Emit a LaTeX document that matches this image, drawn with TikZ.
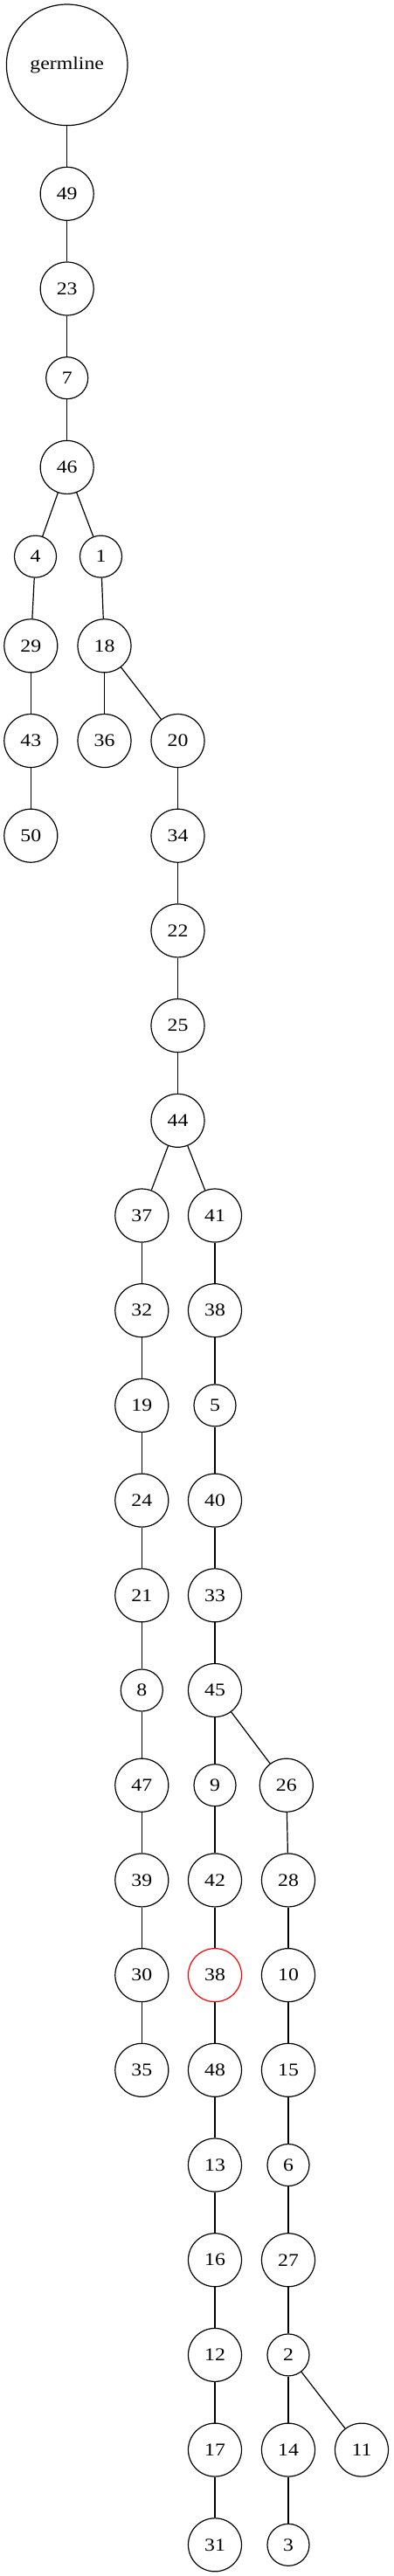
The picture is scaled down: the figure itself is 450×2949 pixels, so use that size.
\documentclass[tikz,border=0pt]{standalone}
\usepackage{fontspec}
\setmainfont{Liberation Serif}[FakeStretch=1.15]
\begin{document}
\begin{tikzpicture}[x=0.75pt,y=-0.75pt,
  base/.style={circle,draw=black,line width=0.9pt,inner sep=0pt,font=\fontsize{15.5}{18}\selectfont},
  sn/.style={base,minimum size=36pt},
  dn/.style={base,minimum size=45.75pt},
  gn/.style={base,minimum size=103.95pt},
  hl/.style={draw=red},
  edge/.style={line width=0.9pt,black}]
\useasboundingbox (0,0) rectangle (450,2949);
% column x positions
\def\xa{76.7}\def\xb{40.5}\def\xc{115.5}\def\xd{35.3}\def\xe{119.5}\def\xf{203.5}
\def\xg{162.3}\def\xh{246}\def\xi{327.8}\def\xj{330}\def\xk{414}
% nodes
\node[gn] (g) at (\xa,74.3) {germline};
\node[dn] (n49) at (\xa,221.8) {49};
\node[dn] (n23) at (\xa,330.5) {23};
\node[sn] (n7) at (\xa,432.7) {7};
\node[dn] (n46) at (\xa,534.9) {46};
\node[sn] (n4) at (\xb,637.1) {4};
\node[sn] (n1) at (\xc,637.1) {1};
\node[dn] (n29) at (\xd,739.3) {29};
\node[dn] (n18) at (\xe,739.3) {18};
\node[dn] (n43) at (\xd,848) {43};
\node[dn] (n36) at (\xe,848) {36};
\node[dn] (n20) at (\xf,848) {20};
\node[dn] (n50) at (\xd,956.7) {50};
\node[dn] (n34) at (\xf,956.7) {34};
\node[dn] (n22) at (\xf,1065.4) {22};
\node[dn] (n25) at (\xf,1174.1) {25};
\node[dn] (n44) at (\xf,1282.8) {44};
\node[dn] (n37) at (\xg,1391.5) {37};
\node[dn] (n41) at (\xh,1391.5) {41};
\node[dn] (n32) at (\xg,1500.2) {32};
\node[dn] (n38a) at (\xh,1500.2) {38};
\node[dn] (n19) at (\xg,1608.9) {19};
\node[sn] (n5) at (\xh,1608.9) {5};
\node[dn] (n24) at (\xg,1717.6) {24};
\node[dn] (n40) at (\xh,1717.6) {40};
\node[dn] (n21) at (\xg,1826.3) {21};
\node[dn] (n33) at (\xh,1826.3) {33};
\node[sn] (n8) at (\xg,1935) {8};
\node[dn] (n45) at (\xh,1935) {45};
\node[dn] (n47) at (\xg,2043.7) {47};
\node[sn] (n9) at (\xh,2043.7) {9};
\node[dn] (n26) at (\xi,2043.7) {26};
\node[dn] (n39) at (\xg,2152.4) {39};
\node[dn] (n42) at (\xh,2152.4) {42};
\node[dn] (n28) at (\xj,2152.4) {28};
\node[dn] (n30) at (\xg,2261.1) {30};
\node[dn,hl] (n38b) at (\xh,2261.1) {38};
\node[dn] (n10) at (\xj,2261.1) {10};
\node[dn] (n35) at (\xg,2369.8) {35};
\node[dn] (n48) at (\xh,2369.8) {48};
\node[dn] (n15) at (\xj,2369.8) {15};
\node[dn] (n13) at (\xh,2478.5) {13};
\node[sn] (n6) at (\xj,2478.5) {6};
\node[dn] (n16) at (\xh,2587.2) {16};
\node[dn] (n27) at (\xj,2587.2) {27};
\node[dn] (n12) at (\xh,2695.9) {12};
\node[sn] (n2) at (\xj,2695.9) {2};
\node[dn] (n17) at (\xh,2804.6) {17};
\node[dn] (n14) at (\xj,2804.6) {14};
\node[dn] (n11) at (\xk,2804.6) {11};
\node[dn] (n31) at (\xh,2913.3) {31};
\node[sn] (n3) at (\xj,2913.3) {3};
% edges
\foreach \a/\b in {g/n49,n49/n23,n23/n7,n7/n46,n46/n4,n46/n1,n4/n29,n29/n43,n43/n50,
  n1/n18,n18/n36,n18/n20,n20/n34,n34/n22,n22/n25,n25/n44,n44/n37,n44/n41,
  n37/n32,n32/n19,n19/n24,n24/n21,n21/n8,n8/n47,n47/n39,n39/n30,n30/n35,
  n41/n38a,n38a/n5,n5/n40,n40/n33,n33/n45,n45/n9,n45/n26,
  n9/n42,n42/n38b,n38b/n48,n48/n13,n13/n16,n16/n12,n12/n17,n17/n31,
  n26/n28,n28/n10,n10/n15,n15/n6,n6/n27,n27/n2,n2/n14,n2/n11,n14/n3}
  \draw[edge] (\a) -- (\b);
\end{tikzpicture}
\end{document}
